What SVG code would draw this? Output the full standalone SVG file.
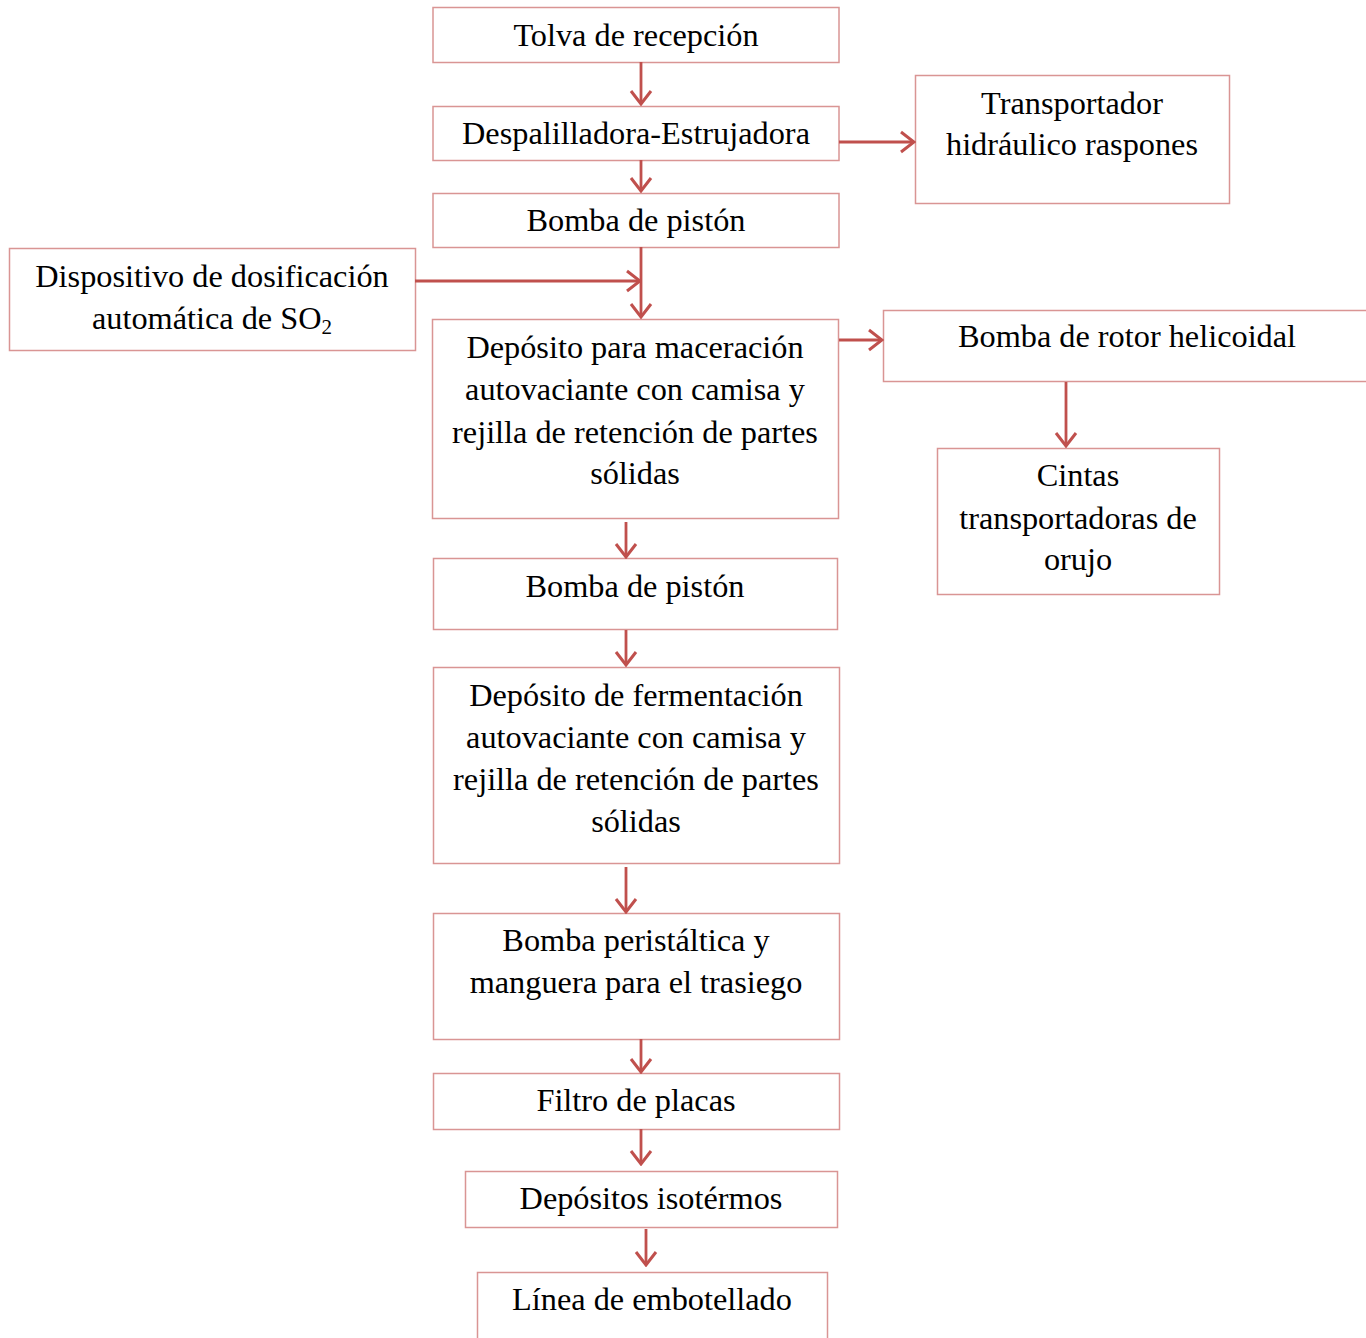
<svg xmlns="http://www.w3.org/2000/svg" width="1366" height="1338" viewBox="0 0 1366 1338">
  <style>
    .box { fill: #ffffff; stroke: #d99594; stroke-width: 1.5; }
    .lbl { font-family: "Liberation Serif", "Times New Roman", serif; font-size: 32.3px; fill: #000000; text-anchor: middle; }
    .flow { stroke: #c0504d; stroke-width: 2.8; fill: none; marker-end: url(#head); }
  </style>
  <defs>
    <marker id="head" markerUnits="userSpaceOnUse" viewBox="-16 -12 18 24" refX="0" refY="0" markerWidth="18" markerHeight="24" orient="auto">
      <path d="M-13,-10 L0,0 L-13,10" fill="none" stroke="#c0504d" stroke-width="3"/>
    </marker>
  </defs>

  <rect width="1366" height="1338" fill="#ffffff"/>

  <g id="tolva">
    <rect class="box" x="433" y="7.5" width="406" height="55"/>
    <text class="lbl" x="636" y="46">Tolva de recepción</text>
  </g>
  <g id="despalilladora">
    <rect class="box" x="433" y="106.5" width="406" height="54"/>
    <text class="lbl" x="636" y="144">Despalilladora-Estrujadora</text>
  </g>
  <g id="transportador">
    <rect class="box" x="915.5" y="75.5" width="314" height="128"/>
    <text class="lbl" x="1072" y="114">Transportador</text>
    <text class="lbl" x="1072" y="155">hidráulico raspones</text>
  </g>
  <g id="bomba-piston-1">
    <rect class="box" x="433" y="193.5" width="406" height="54"/>
    <text class="lbl" x="636" y="231">Bomba de pistón</text>
  </g>
  <g id="dispositivo-so2">
    <rect class="box" x="9.5" y="248.5" width="406" height="102"/>
    <text class="lbl" x="212" y="287">Dispositivo de dosificación</text>
    <text class="lbl" x="212" y="329">automática de SO<tspan font-size="21px" dy="5">2</tspan></text>
  </g>
  <g id="deposito-maceracion">
    <rect class="box" x="432.5" y="319.5" width="406" height="199"/>
    <text class="lbl" x="635" y="358">Depósito para maceración</text>
    <text class="lbl" x="635" y="400">autovaciante con camisa y</text>
    <text class="lbl" x="635" y="443">rejilla de retención de partes</text>
    <text class="lbl" x="635" y="484">sólidas</text>
  </g>
  <g id="bomba-rotor">
    <rect class="box" x="883.5" y="310.5" width="500" height="71"/>
    <text class="lbl" x="1127" y="347">Bomba de rotor helicoidal</text>
  </g>
  <g id="cintas">
    <rect class="box" x="937.5" y="448.5" width="282" height="146"/>
    <text class="lbl" x="1078" y="486">Cintas</text>
    <text class="lbl" x="1078" y="529">transportadoras de</text>
    <text class="lbl" x="1078" y="570">orujo</text>
  </g>
  <g id="bomba-piston-2">
    <rect class="box" x="433.5" y="558.5" width="404" height="71"/>
    <text class="lbl" x="635" y="597">Bomba de pistón</text>
  </g>
  <g id="deposito-fermentacion">
    <rect class="box" x="433.5" y="667.5" width="406" height="196"/>
    <text class="lbl" x="636" y="706">Depósito de fermentación</text>
    <text class="lbl" x="636" y="748">autovaciante con camisa y</text>
    <text class="lbl" x="636" y="790">rejilla de retención de partes</text>
    <text class="lbl" x="636" y="832">sólidas</text>
  </g>
  <g id="bomba-peristaltica">
    <rect class="box" x="433.5" y="913.5" width="406" height="126"/>
    <text class="lbl" x="636" y="951">Bomba peristáltica y</text>
    <text class="lbl" x="636" y="993">manguera para el trasiego</text>
  </g>
  <g id="filtro">
    <rect class="box" x="433.5" y="1073.5" width="406" height="56"/>
    <text class="lbl" x="636" y="1111">Filtro de placas</text>
  </g>
  <g id="depositos-isotermos">
    <rect class="box" x="465.5" y="1171.5" width="372" height="56"/>
    <text class="lbl" x="651" y="1209">Depósitos isotérmos</text>
  </g>
  <g id="linea-embotellado">
    <rect class="box" x="477.5" y="1272.5" width="350" height="100"/>
    <text class="lbl" x="652" y="1310">Línea de embotellado</text>
  </g>

  <g id="connectors">
    <line class="flow" x1="641" y1="62" x2="641" y2="104"/>
    <line class="flow" x1="641" y1="160" x2="641" y2="191"/>
    <line class="flow" x1="839" y1="142" x2="914" y2="142"/>
    <line class="flow" x1="641" y1="247" x2="641" y2="317"/>
    <line class="flow" x1="415" y1="281" x2="640" y2="281"/>
    <line class="flow" x1="839" y1="340" x2="882" y2="340"/>
    <line class="flow" x1="1066" y1="382" x2="1066" y2="446"/>
    <line class="flow" x1="626" y1="522" x2="626" y2="557"/>
    <line class="flow" x1="626" y1="630" x2="626" y2="665"/>
    <line class="flow" x1="626" y1="867" x2="626" y2="912"/>
    <line class="flow" x1="641" y1="1039" x2="641" y2="1072"/>
    <line class="flow" x1="641" y1="1129" x2="641" y2="1164"/>
    <line class="flow" x1="646" y1="1229" x2="646" y2="1265"/>
  </g>
</svg>
